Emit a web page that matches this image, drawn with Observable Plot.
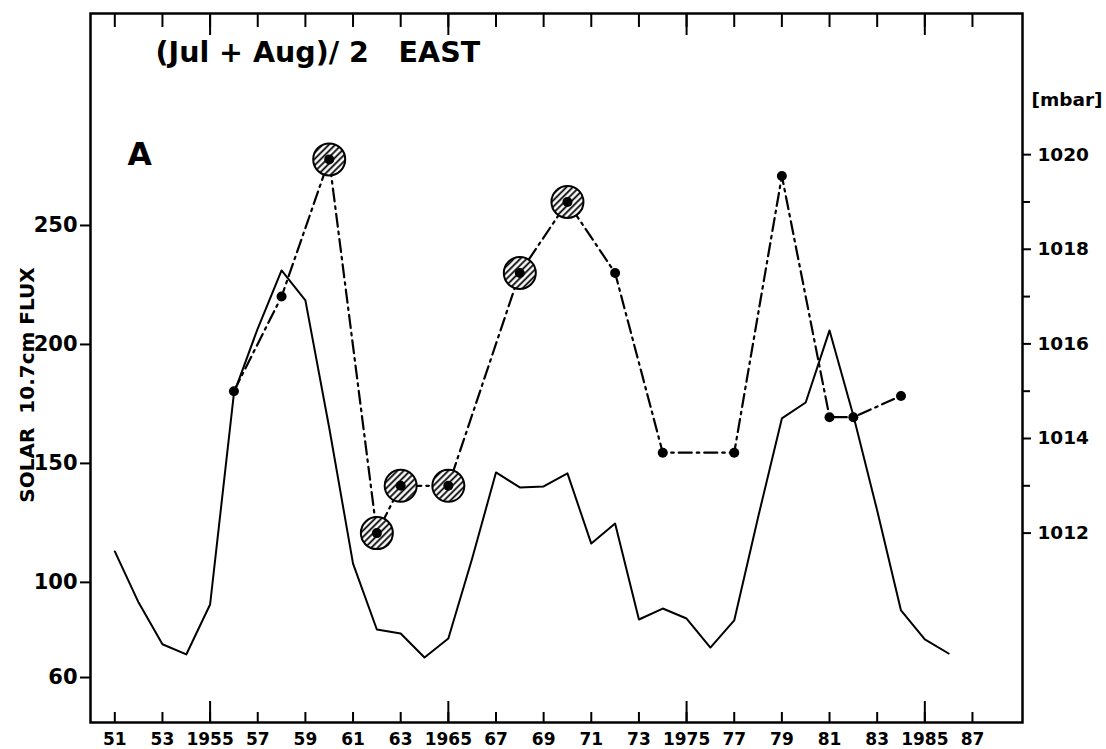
<!DOCTYPE html>
<html><head><meta charset="utf-8">
<script src="https://cdn.jsdelivr.net/npm/d3@7"></script>
<script src="https://cdn.jsdelivr.net/npm/@observablehq/plot@0.6"></script>
<style>body{margin:0;background:#fff;}</style>
</head><body><div id="chart"></div>
<script>
// Solar 10.7 cm flux (left axis), yearly
const years = [1951,1952,1953,1954,1955,1956,1957,1958,1959,1960,1961,1962,1963,1964,1965,1966,1967,1968,1969,1970,1971,1972,1973,1974,1975,1976,1977,1978,1979,1980,1981,1982,1983,1984,1985,1986];
const solarFlux = [113,91.5,74,69.7,90.7,179.4,206.7,231.1,218.5,165,107.9,80.2,78.5,68.4,76.4,110,146.2,139.9,140.3,145.8,116.3,124.7,84.4,89.0,84.8,72.6,84.0,127.3,168.9,175.6,205.9,170.1,130.2,88.2,76,70.1];

// Pressure (Jul+Aug)/2 EAST, mbar (right axis)
const pressureYears = [1956,1958,1960,1962,1963,1965,1968,1970,1972,1974,1977,1979,1981,1982,1984];
const pressure = [1015.0,1017.0,1019.9,1012.0,1013.0,1013.0,1017.5,1019.0,1017.5,1013.7,1013.7,1019.55,1014.45,1014.45,1014.9];
const hatchedYears = [1960,1962,1963,1965,1968,1970];

// Axis ticks
const xTickYears = [1951,1953,1955,1957,1959,1961,1963,1965,1967,1969,1971,1973,1975,1977,1979,1981,1983,1985,1987];
const xTickLabels = ["51","53","1955","57","59","61","63","1965","67","69","71","73","1975","77","79","81","83","1985","87"];
const longTickYears = [1955,1965,1975,1985];
const fluxTicks = [60,100,150,200,250];
const pressureTicks = [1012,1014,1016,1018,1020];
const pressureMinorTicks = [1013,1015,1017,1019];

// alignment of the right (mbar) axis onto the left (flux) axis
const toFlux = d3.scaleLinear([1014, 1020], [160.47, 279.77]);

const labelOf = new Map(xTickYears.map((y, i) => [y, xTickLabels[i]]));
const solar = years.map((year, i) => ({year, flux: solarFlux[i]}));
const pres = pressureYears.map((year, i) => ({year, v: toFlux(pressure[i]), hatched: hatchedYears.includes(year)}));

const F = "DejaVu Sans";

const defs = () => {
  const d = d3.create("svg:defs");
  const pat = d.append("pattern").attr("id", "hatch").attr("patternUnits", "userSpaceOnUse")
    .attr("width", 4.5).attr("height", 4.5).attr("patternTransform", "rotate(-45)");
  pat.append("rect").attr("width", 4.5).attr("height", 4.5).attr("fill", "white");
  pat.append("line").attr("x1", 0).attr("y1", 1.2).attr("x2", 4.5).attr("y2", 1.2)
    .attr("stroke", "black").attr("stroke-width", 1.8);
  return d.node();
};

const chart = Plot.plot({
  width: 1106, height: 749,
  marginTop: 13, marginRight: 84, marginBottom: 27, marginLeft: 90,
  x: {domain: [1949.98, 1989.1]},
  y: {domain: [41.1, 339.1]},
  style: {background: "white", color: "black", fontFamily: F},
  marks: [
    defs,
    Plot.frame({stroke: "black", strokeWidth: 2.5}),
    Plot.axisX(xTickYears, {anchor: "bottom", tickSize: -10, tickPadding: 20, tickFormat: y => labelOf.get(y),
      fontSize: 17, fontWeight: "bold", fontFamily: F, strokeWidth: 2, label: null}),
    Plot.axisX(longTickYears, {anchor: "bottom", tickSize: -21, fill: "none", strokeWidth: 2, label: null}),
    Plot.axisX(xTickYears, {anchor: "top", tickSize: -13, fill: "none", strokeWidth: 2, label: null}),
    Plot.axisX(longTickYears, {anchor: "top", tickSize: -21, fill: "none", strokeWidth: 2, label: null}),
    Plot.axisY(fluxTicks, {anchor: "left", tickSize: 10, tickPadding: 3, fontSize: 21, fontWeight: "bold", fontFamily: F, strokeWidth: 2, label: null}),
    Plot.axisY(pressureTicks.map(p => toFlux(p)), {anchor: "right", tickSize: 8, tickPadding: 7,
      tickFormat: v => String(Math.round(toFlux.invert(v))), fontSize: 18.5, fontWeight: "bold", fontFamily: F, strokeWidth: 2, label: null}),
    Plot.axisY(pressureMinorTicks.map(p => toFlux(p)), {anchor: "right", tickSize: 7, fill: "none", strokeWidth: 2, label: null}),
    Plot.line(solar, {x: "year", y: "flux", stroke: "black", strokeWidth: 2}),
    Plot.line(pres, {x: "year", y: "v", stroke: "black", strokeWidth: 2.2, strokeDasharray: "13,5,2.5,5"}),
    Plot.dot(pres.filter(d => d.hatched), {x: "year", y: "v", r: 16, fill: "url(#hatch)", stroke: "black", strokeWidth: 2}),
    Plot.dot(pres, {x: "year", y: "v", r: 5, fill: "black"}),
    Plot.text(["(Jul + Aug)/ 2\u00a0\u00a0 EAST"], {text: d => d, frameAnchor: "top-left", dx: 65, dy: 28, textAnchor: "start", lineAnchor: "top", fontSize: 28.5, fontWeight: "bold", fontFamily: F}),
    Plot.text(["A"], {text: d => d, frameAnchor: "top-left", dx: 37, dy: 129, textAnchor: "start", lineAnchor: "top", fontSize: 31.5, fontWeight: "bold", fontFamily: F}),
    Plot.text(["SOLAR  10.7cm FLUX"], {text: d => d, frameAnchor: "left", dx: -63, dy: 17, rotate: -90, textAnchor: "middle", lineAnchor: "middle", fontSize: 20, fontWeight: "bold", fontFamily: F}),
    Plot.text(["[mbar]"], {text: d => d, frameAnchor: "top-right", dx: 9, dy: 79, textAnchor: "start", fontSize: 18.5, fontWeight: "bold", fontFamily: F})
  ]
});
document.getElementById("chart").appendChild(chart);
</script>
</body></html>
